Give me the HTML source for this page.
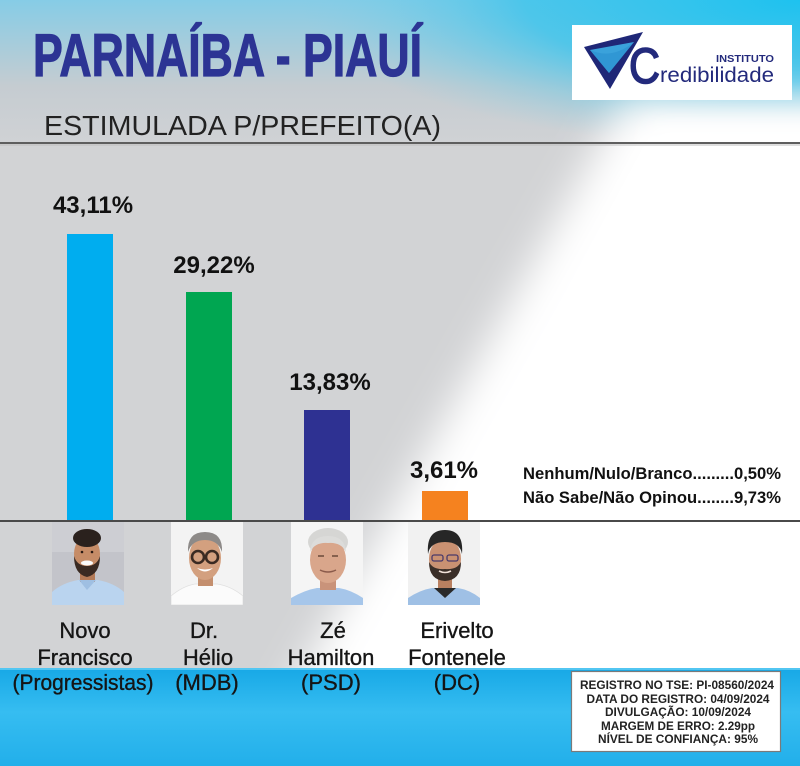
<!DOCTYPE html>
<html>
<head>
<meta charset="utf-8">
<style>
html,body{margin:0;padding:0;background:#d2d3d5;}
svg{display:block;}
text{font-family:"Liberation Sans",Arial,sans-serif;}
</style>
</head>
<body>
<svg width="800" height="766" viewBox="0 0 800 766" xmlns="http://www.w3.org/2000/svg">
<defs>
  <linearGradient id="gTop" x1="0" y1="0" x2="0" y2="1">
    <stop offset="0" stop-color="#86cce6"/>
    <stop offset="0.6" stop-color="#c5ccd1"/>
    <stop offset="1" stop-color="#d0d2d5"/>
  </linearGradient>
  <radialGradient id="gCyan" cx="1" cy="0" r="1" fx="1" fy="0">
    <stop offset="0" stop-color="#1ec2ef" stop-opacity="1"/>
    <stop offset="0.55" stop-color="#3cc4ec" stop-opacity="0.8"/>
    <stop offset="1" stop-color="#7fcfe8" stop-opacity="0"/>
  </radialGradient>
  <linearGradient id="gBand" x1="0" y1="0" x2="0" y2="1">
    <stop offset="0" stop-color="#17a8e6"/>
    <stop offset="0.45" stop-color="#36bdf1"/>
    <stop offset="1" stop-color="#22afea"/>
  </linearGradient>
  <filter id="blur" x="-30%" y="-30%" width="160%" height="160%">
    <feGaussianBlur stdDeviation="20"/>
  </filter>
  <filter id="blur2" x="-30%" y="-30%" width="160%" height="160%">
    <feGaussianBlur stdDeviation="10"/>
  </filter>
  <clipPath id="c1"><rect x="0" y="0" width="72" height="83"/></clipPath>
</defs>

<!-- background -->
<rect x="0" y="0" width="800" height="766" fill="#d2d3d5"/>
<rect x="0" y="0" width="800" height="143" fill="url(#gTop)"/>
<rect x="300" y="0" width="500" height="150" fill="url(#gCyan)"/>
<polygon points="625,100 860,100 860,720 275,720" fill="#ffffff" filter="url(#blur)"/>
<polygon points="655,125 860,125 860,720 335,720" fill="#ffffff" filter="url(#blur2)"/>

<!-- header line -->
<rect x="0" y="142" width="800" height="2" fill="#5e5e5e"/>
<rect x="0" y="144" width="800" height="2" fill="#bdbdbd" opacity="0.5"/>

<!-- title -->
<text x="33" y="76" font-size="60" font-weight="bold" fill="#2c3494" stroke="#2c3494" stroke-width="1.2" textLength="389" lengthAdjust="spacingAndGlyphs">PARNAÍBA - PIAUÍ</text>
<text x="44" y="135" font-size="28" fill="#222" textLength="397" lengthAdjust="spacingAndGlyphs">ESTIMULADA P/PREFEITO(A)</text>

<!-- logo -->
<rect x="572" y="25" width="220" height="75" fill="#ffffff"/>
<polygon points="584,47 643,32 610,89" fill="#1f2777"/>
<polygon points="590,50 634,42 609,73" fill="#3aa2db"/>
<path d="M590,50 Q612,60 634,42 L609,73 Z" fill="#2a8fcf" opacity="0.6"/>
<text x="629" y="83" font-size="50" fill="#232a7c" stroke="#232a7c" stroke-width="1.6" textLength="31" lengthAdjust="spacingAndGlyphs">C</text>
<text x="660" y="82" font-size="21" fill="#232a7c" textLength="114" lengthAdjust="spacingAndGlyphs">redibilidade</text>
<text x="716" y="62" font-size="10" font-weight="bold" fill="#232a7c" textLength="58" lengthAdjust="spacingAndGlyphs">INSTITUTO</text>

<!-- bars -->
<rect x="67" y="234" width="46" height="287" fill="#00adef"/>
<rect x="186" y="292" width="46" height="229" fill="#00a651"/>
<rect x="304" y="410" width="46" height="111" fill="#2e3192"/>
<rect x="422" y="491" width="46" height="30" fill="#f5821f"/>

<!-- baseline -->
<rect x="0" y="520" width="800" height="2" fill="#4a4a4a"/>

<!-- bar labels -->
<g font-size="24" font-weight="bold" fill="#111" text-anchor="middle">
  <text x="93" y="213">43,11%</text>
  <text x="214" y="273">29,22%</text>
  <text x="330" y="390">13,83%</text>
  <text x="444" y="478">3,61%</text>
</g>

<!-- legend -->
<g font-size="17" font-weight="bold" fill="#111">
  <text x="523" y="479" textLength="258" lengthAdjust="spacingAndGlyphs">Nenhum/Nulo/Branco.........0,50%</text>
  <text x="523" y="503" textLength="258" lengthAdjust="spacingAndGlyphs">Não Sabe/Não Opinou........9,73%</text>
</g>

<!-- photo 1 -->
<g transform="translate(52,522)" clip-path="url(#c1)">
  <rect width="72" height="83" fill="#c3c4ca"/>
  <rect width="72" height="30" fill="#cdced3"/>
  <path d="M0,83 L0,70 Q10,61 26,58 L46,58 Q62,61 72,70 L72,83 Z" fill="#bad4ef"/>
  <rect x="28" y="46" width="15" height="14" fill="#b47a57"/>
  <path d="M27,58 L35,68 L44,58 Z" fill="#9fbfe2"/>
  <ellipse cx="35" cy="32" rx="13" ry="18" fill="#c68c67"/>
  <ellipse cx="35" cy="16" rx="14" ry="9" fill="#2a211d"/>
  <path d="M22,34 Q22,52 35,55 Q48,52 48,34 Q45,44 35,44 Q25,44 22,34 Z" fill="#3a2a22"/>
  <ellipse cx="35" cy="41" rx="6" ry="2.5" fill="#fafafa"/>
  <circle cx="30" cy="30" r="1.3" fill="#2a1a14"/>
  <circle cx="40" cy="30" r="1.3" fill="#2a1a14"/>
</g>

<!-- photo 2 -->
<g transform="translate(171,522)" clip-path="url(#c1)">
  <rect width="72" height="83" fill="#f3f3f3"/>
  <path d="M0,83 L0,74 Q12,64 24,62 L46,62 Q60,64 72,74 L72,83 Z" fill="#fbfbfb" stroke="#e0e0e0" stroke-width="0.8"/>
  <rect x="27" y="52" width="15" height="12" fill="#c48f6e"/>
  <ellipse cx="34" cy="36" rx="16" ry="22" fill="#d3a07f"/>
  <path d="M17,30 Q16,10 34,10 Q52,10 51,30 Q47,18 34,18 Q21,18 17,30 Z" fill="#8d8a88"/>
  <circle cx="27" cy="35" r="6" fill="none" stroke="#3a2a22" stroke-width="2.6"/>
  <circle cx="41" cy="35" r="6" fill="none" stroke="#3a2a22" stroke-width="2.6"/>
  <path d="M26,46 Q34,53 42,46 Q34,49 26,46 Z" fill="#ffffff"/>
</g>

<!-- photo 3 -->
<g transform="translate(291,522)" clip-path="url(#c1)">
  <rect width="72" height="83" fill="#f5f5f5"/>
  <path d="M0,83 L0,76 Q14,68 26,66 L48,66 Q60,68 72,76 L72,83 Z" fill="#a6c6ea"/>
  <rect x="29" y="56" width="16" height="12" fill="#c9937a"/>
  <ellipse cx="37" cy="20" rx="20" ry="14" fill="#d6d6d4"/>
  <ellipse cx="37" cy="38" rx="18" ry="23" fill="#d9a68b"/>
  <path d="M19,30 Q20,14 37,14 Q54,14 55,30 Q50,20 37,21 Q24,20 19,30 Z" fill="#dcdcda"/>
  <path d="M27,34 L33,34 M41,34 L47,34" stroke="#6a4a3a" stroke-width="1.5"/>
  <path d="M29,48 Q37,52 45,48" stroke="#8a5a4a" stroke-width="1.5" fill="none"/>
</g>

<!-- photo 4 -->
<g transform="translate(408,522)" clip-path="url(#c1)">
  <rect width="72" height="83" fill="#f1f1f1"/>
  <path d="M0,83 L0,76 Q12,68 24,66 L50,66 Q62,68 72,76 L72,83 Z" fill="#9fc0e5"/>
  <path d="M26,66 L37,76 L48,66 Z" fill="#2a2a2a"/>
  <rect x="30" y="54" width="14" height="12" fill="#b98060"/>
  <ellipse cx="37" cy="37" rx="16" ry="21" fill="#c99172"/>
  <path d="M20,32 Q18,8 37,8 Q56,8 54,32 Q52,20 37,20 Q22,20 20,32 Z" fill="#262626"/>
  <path d="M21,40 Q21,58 37,59 Q53,58 53,40 Q49,48 37,47 Q25,48 21,40 Z" fill="#3a2e28"/>
  <rect x="24" y="33" width="11" height="6" rx="2" fill="none" stroke="#4a3a6a" stroke-width="1.3"/>
  <rect x="39" y="33" width="11" height="6" rx="2" fill="none" stroke="#4a3a6a" stroke-width="1.3"/>
  <path d="M31,49 Q37,52 43,49" stroke="#f0e0d8" stroke-width="1.6" fill="none"/>
</g>

<!-- bottom band -->
<rect x="0" y="668" width="800" height="98" fill="url(#gBand)"/>
<rect x="0" y="668" width="800" height="2" fill="#52c6f2"/>

<!-- candidate names -->
<g font-size="22" fill="#151515" stroke="#151515" stroke-width="0.35" text-anchor="middle">
  <text x="85" y="638">Novo</text>
  <text x="85" y="665">Francisco</text>
  <text x="83" y="690" textLength="141" lengthAdjust="spacingAndGlyphs">(Progressistas)</text>
  <text x="204" y="638">Dr.</text>
  <text x="208" y="665">Hélio</text>
  <text x="207" y="690">(MDB)</text>
  <text x="333" y="638">Zé</text>
  <text x="331" y="665">Hamilton</text>
  <text x="331" y="690">(PSD)</text>
  <text x="457" y="638">Erivelto</text>
  <text x="457" y="665">Fontenele</text>
  <text x="457" y="690">(DC)</text>
</g>

<!-- registration box -->
<rect x="571.5" y="671.5" width="209" height="80" fill="#ffffff" stroke="#7a7a7a" stroke-width="1.2"/>
<g font-size="12" font-weight="bold" fill="#222" text-anchor="middle">
  <text x="677" y="689" textLength="194" lengthAdjust="spacingAndGlyphs">REGISTRO NO TSE: PI-08560/2024</text>
  <text x="678" y="703" textLength="183" lengthAdjust="spacingAndGlyphs">DATA DO REGISTRO: 04/09/2024</text>
  <text x="678" y="716" textLength="146" lengthAdjust="spacingAndGlyphs">DIVULGAÇÃO: 10/09/2024</text>
  <text x="678" y="730" textLength="154" lengthAdjust="spacingAndGlyphs">MARGEM DE ERRO: 2.29pp</text>
  <text x="678" y="743" textLength="160" lengthAdjust="spacingAndGlyphs">NÍVEL DE CONFIANÇA: 95%</text>
</g>
</svg>
</body>
</html>
